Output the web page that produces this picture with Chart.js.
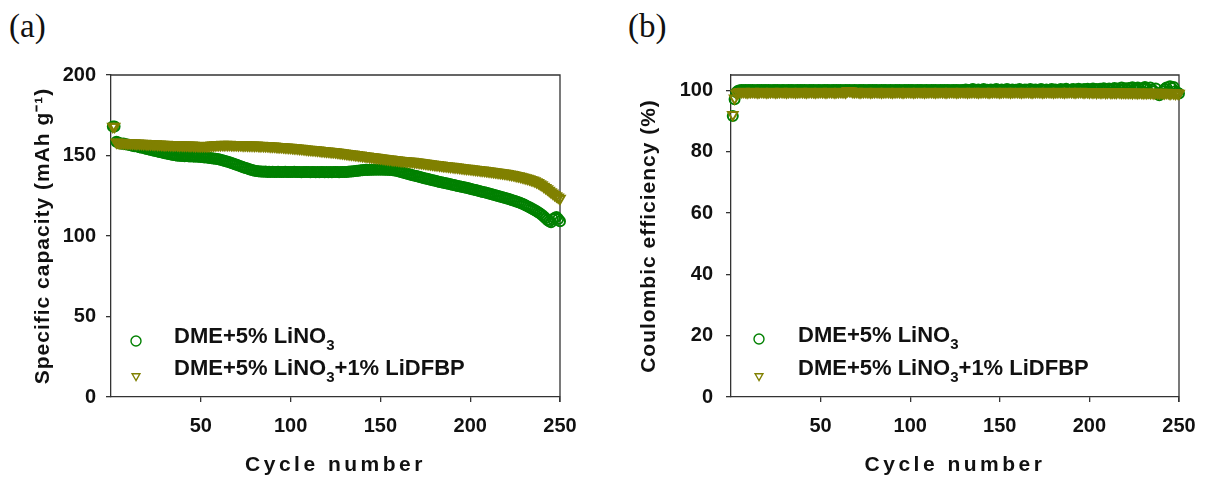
<!DOCTYPE html>
<html>
<head>
<meta charset="utf-8">
<script src="https://cdn.jsdelivr.net/npm/chart.js@4.4.1/dist/chart.umd.min.js"></script>
<style>
  body { margin: 0; background: #fff; width: 1209px; height: 484px; overflow: hidden; position: relative; }
  .box { position: absolute; top: 0; height: 484px; }
  .tag { position: absolute; top: 8px; font: 33px 'Liberation Serif', serif; color: #111; }
</style>
</head>
<body>
<div class="tag" style="left:9px">(a)</div>
<div class="tag" style="left:628px">(b)</div>
<div class="box" style="left:0;width:600px"><canvas id="capa"></canvas></div>
<div class="box" style="left:605px;width:604px"><canvas id="ce"></canvas></div>

<script>
var cycles = Array.from({length: 250}, function (_, i) { return i + 1; });

var seriesNames = ['DME+5% LiNO₃', 'DME+5% LiNO₃+1% LiDFBP'];
var xTicks = [50, 100, 150, 200, 250];
var capTicks = [0, 50, 100, 150, 200];
var ceTicks = [0, 20, 40, 60, 80, 100];

// (a) specific capacity, mAh/g
var capLiNO3 = [
  168, 168, 158.5, 158, 157.6, 157.3, 157.5, 157, 156.8, 156.6,
  156.3, 156.1, 155.8, 155.9, 155.4, 155.1, 154.8, 154.9, 154.4, 154.1,
  153.8, 153.6, 153.3, 153.0, 152.8, 152.5, 152.2, 152.0, 151.7, 151.4,
  151.2, 150.9, 150.7, 150.5, 150.3, 150.1, 149.9, 150.0, 149.7, 149.8,
  149.6, 149.7, 149.5, 149.4, 149.6, 149.3, 149.4, 149.2, 149.3, 149.1,
  149.0, 148.8, 148.9, 148.6, 148.5, 148.3, 148.2, 148.0, 147.9, 147.6,
  147.4, 147.1, 146.8, 146.5, 146.1, 145.8, 145.4, 145.0, 144.6, 144.2,
  143.8, 143.4, 143.0, 142.6, 142.2, 141.9, 141.5, 141.2, 140.9, 140.6,
  140.4, 140.2, 140.1, 140.0, 139.9, 140.0, 139.8, 139.9, 139.8, 139.9,
  139.8, 139.7, 139.9, 139.8, 139.7, 139.8, 139.9, 139.7, 139.8, 139.8,
  139.7, 139.9, 139.8, 139.7, 139.8, 139.6, 139.8, 139.7, 139.8, 139.7,
  139.6, 139.7, 139.8, 139.6, 139.7, 139.6, 139.7, 139.8, 139.6, 139.7,
  139.6, 139.7, 139.6, 139.7, 139.8, 139.7, 139.6, 139.7, 139.8, 139.7,
  139.8, 139.9, 140.0, 140.1, 140.2, 140.4, 140.5, 140.6, 140.8, 140.9,
  141.0, 141.1, 141.0, 141.2, 141.1, 141.2, 141.3, 141.2, 141.3, 141.2,
  141.3, 141.2, 141.1, 141.2, 141.0, 141.1, 140.9, 140.7, 140.5, 140.2,
  139.9, 139.6, 139.3, 139.0, 138.7, 138.4, 138.1, 137.8, 137.5, 137.2,
  136.9, 136.6, 136.3, 136.0, 135.7, 135.5, 135.2, 134.9, 134.7, 134.4,
  134.1, 133.9, 133.6, 133.4, 133.1, 132.9, 132.6, 132.4, 132.1, 131.9,
  131.6, 131.4, 131.1, 130.9, 130.6, 130.4, 130.1, 129.9, 129.6, 129.4,
  129.1, 128.8, 128.6, 128.3, 128.0, 127.7, 127.4, 127.1, 126.8, 126.5,
  126.2, 125.9, 125.6, 125.3, 125.0, 124.7, 124.4, 124.1, 123.8, 123.5,
  123.1, 122.8, 122.4, 122.0, 121.7, 121.3, 120.9, 120.5, 120.0, 119.5,
  119.0, 118.4, 117.8, 117.2, 116.6, 116.0, 115.3, 114.6, 113.9, 113.0,
  112.1, 111.0, 110.0, 109.2, 108.6, 110.4, 111.2, 111.8, 110.5, 109.2
];
var capLiDFBP = [
  168, 168, 158.3, 158.1, 157.9, 158.0, 157.8, 157.9, 157.7, 157.8,
  157.7, 157.6, 157.7, 157.5, 157.6, 157.4, 157.5, 157.3, 157.4, 157.2,
  157.3, 157.1, 157.2, 157.0, 157.1, 156.9, 157.0, 156.8, 156.9, 156.7,
  156.8, 156.7, 156.6, 156.7, 156.5, 156.6, 156.5, 156.4, 156.5, 156.4,
  156.3, 156.4, 156.3, 156.2, 156.3, 156.2, 156.1, 156.2, 156.1, 156.0,
  156.1, 156.0, 156.1, 156.0, 156.2, 156.3, 156.4, 156.5, 156.6, 156.7,
  156.7, 156.8, 156.7, 156.8, 156.7, 156.8, 156.7, 156.6, 156.7, 156.6,
  156.5, 156.6, 156.5, 156.4, 156.5, 156.4, 156.3, 156.4, 156.3, 156.2,
  156.3, 156.2, 156.1, 156.2, 156.1, 156.0, 156.0, 155.9, 155.8, 155.8,
  155.7, 155.6, 155.5, 155.5, 155.4, 155.3, 155.2, 155.1, 155.0, 154.9,
  154.8, 154.7, 154.6, 154.5, 154.4, 154.3, 154.2, 154.0, 153.9, 153.8,
  153.7, 153.6, 153.5, 153.4, 153.3, 153.2, 153.0, 152.9, 152.8, 152.7,
  152.6, 152.5, 152.4, 152.3, 152.2, 152.0, 151.9, 151.7, 151.6, 151.4,
  151.3, 151.1, 151.0, 150.8, 150.7, 150.5, 150.4, 150.2, 150.1, 149.9,
  149.8, 149.6, 149.5, 149.3, 149.2, 149.0, 148.9, 148.7, 148.6, 148.4,
  148.3, 148.1, 148.0, 147.8, 147.7, 147.6, 147.4, 147.3, 147.2, 147.0,
  146.9, 146.8, 146.7, 146.6, 146.5, 146.4, 146.3, 146.2, 146.0, 145.9,
  145.8, 145.6, 145.5, 145.3, 145.2, 145.0, 144.9, 144.7, 144.6, 144.4,
  144.3, 144.2, 144.0, 143.9, 143.7, 143.6, 143.5, 143.3, 143.2, 143.1,
  142.9, 142.8, 142.7, 142.5, 142.4, 142.3, 142.1, 142.0, 141.9, 141.7,
  141.6, 141.5, 141.3, 141.2, 141.1, 140.9, 140.8, 140.7, 140.5, 140.4,
  140.2, 140.1, 139.9, 139.8, 139.6, 139.5, 139.3, 139.1, 139.0, 138.8,
  138.6, 138.4, 138.2, 138.0, 137.8, 137.5, 137.3, 137.0, 136.7, 136.4,
  136.1, 135.7, 135.4, 135.0, 134.6, 134.1, 133.6, 133.0, 132.3, 131.6,
  130.8, 130.0, 129.2, 128.3, 127.4, 126.5, 125.6, 124.8, 124.0, 123.3
];

// (b) coulombic efficiency, %
var ceLiNO3 = [
  91.6, 97.1, 99.4, 99.9, 100.0, 100.1, 100.0, 100.1, 100.0, 100.1,
  100.0, 100.1, 100.0, 100.0, 100.1, 100.0, 100.1, 100.0, 100.1, 100.0,
  100.1, 100.0, 100.0, 100.1, 100.0, 100.1, 100.0, 100.0, 100.1, 100.0,
  100.0, 100.1, 100.0, 100.1, 100.0, 100.0, 100.1, 100.0, 100.1, 100.0,
  100.1, 100.0, 100.0, 100.1, 100.0, 100.1, 100.0, 100.0, 100.1, 100.0,
  100.0, 100.1, 100.0, 100.1, 100.0, 100.0, 100.1, 100.0, 100.1, 100.0,
  100.1, 100.0, 100.0, 100.1, 100.0, 100.1, 100.0, 100.0, 100.1, 100.0,
  100.0, 100.1, 100.0, 100.1, 100.0, 100.0, 100.1, 100.0, 100.1, 100.0,
  100.1, 100.0, 100.0, 100.1, 100.0, 100.1, 100.0, 100.0, 100.1, 100.0,
  100.0, 100.1, 100.0, 100.1, 100.0, 100.0, 100.1, 100.0, 100.1, 100.0,
  100.1, 100.0, 100.0, 100.1, 100.0, 100.1, 100.0, 100.0, 100.1, 100.0,
  100.0, 100.1, 100.0, 100.1, 100.0, 100.0, 100.1, 100.0, 100.1, 100.0,
  100.1, 100.0, 100.0, 100.1, 100.0, 100.1, 100.0, 100.0, 100.1, 100.0,
  100.3, 100.1, 100.0, 100.2, 100.4, 100.1, 100.0, 100.3, 100.1, 100.0,
  100.4, 100.1, 100.2, 100.0, 100.3, 100.1, 100.0, 100.4, 100.2, 100.1,
  100.3, 100.0, 100.1, 100.4, 100.2, 100.0, 100.3, 100.1, 100.2, 100.0,
  100.4, 100.1, 100.0, 100.3, 100.2, 100.1, 100.4, 100.0, 100.2, 100.3,
  100.1, 100.0, 100.4, 100.2, 100.1, 100.3, 100.0, 100.2, 100.4, 100.1,
  100.3, 100.1, 100.0, 100.4, 100.2, 100.1, 100.5, 100.2, 100.0, 100.3,
  100.4, 100.1, 100.3, 100.5, 100.2, 100.0, 100.4, 100.2, 100.5, 100.1,
  100.3, 100.6, 100.2, 100.4, 100.1, 100.5, 100.3, 100.7, 100.2, 100.4,
  100.6, 100.1, 100.5, 100.8, 100.3, 100.6, 100.2, 100.9, 100.4, 100.7,
  100.2, 100.8, 100.5, 101.0, 100.3, 100.7, 100.9, 100.4, 99.6, 100.8,
  101.1, 100.5, 99.3, 100.9, 100.3, 99.7, 100.6, 98.8, 98.4, 99.1,
  99.8, 100.4, 100.9, 99.6, 101.3, 100.8, 101.1, 99.7, 99.3, 99.0
];
var ceLiDFBP = [
  92.0, 97.4, 99.0, 99.4, 99.5, 99.5, 99.6, 99.5, 99.4, 99.5,
  99.5, 99.6, 99.5, 99.5, 99.4, 99.5, 99.6, 99.5, 99.5, 99.4,
  99.5, 99.5, 99.6, 99.5, 99.4, 99.5, 99.5, 99.6, 99.5, 99.5,
  99.4, 99.5, 99.6, 99.5, 99.5, 99.4, 99.5, 99.5, 99.6, 99.5,
  99.5, 99.4, 99.5, 99.6, 99.5, 99.5, 99.4, 99.5, 99.5, 99.6,
  99.5, 99.5, 99.4, 99.5, 99.6, 99.5, 99.5, 99.4, 99.5, 99.5,
  99.6, 99.5, 99.5, 99.4, 99.9, 99.9, 99.8, 99.5, 99.5, 99.6,
  99.5, 99.4, 99.5, 99.5, 99.6, 99.5, 99.5, 99.4, 99.5, 99.5,
  99.6, 99.5, 99.5, 99.4, 99.5, 99.5, 99.6, 99.5, 99.5, 99.4,
  99.5, 99.5, 99.6, 99.5, 99.5, 99.4, 99.5, 99.5, 99.6, 99.5,
  99.5, 99.4, 99.5, 99.5, 99.6, 99.5, 99.5, 99.4, 99.5, 99.5,
  99.6, 99.5, 99.5, 99.4, 99.5, 99.5, 99.6, 99.5, 99.5, 99.4,
  99.5, 99.5, 99.6, 99.5, 99.5, 99.4, 99.5, 99.5, 99.6, 99.5,
  99.5, 99.4, 99.5, 99.5, 99.6, 99.5, 99.5, 99.4, 99.5, 99.5,
  99.6, 99.5, 99.5, 99.4, 99.5, 99.5, 99.6, 99.5, 99.5, 99.4,
  99.5, 99.5, 99.6, 99.5, 99.5, 99.4, 99.5, 99.5, 99.6, 99.5,
  99.5, 99.4, 99.5, 99.5, 99.6, 99.5, 99.5, 99.4, 99.5, 99.5,
  99.6, 99.5, 99.5, 99.4, 99.5, 99.5, 99.6, 99.5, 99.5, 99.4,
  99.5, 99.5, 99.6, 99.5, 99.5, 99.4, 99.5, 99.5, 99.6, 99.5,
  99.5, 99.4, 99.5, 99.5, 99.6, 99.5, 99.4, 99.5, 99.5, 99.4,
  99.5, 99.4, 99.5, 99.3, 99.5, 99.4, 99.4, 99.5, 99.3, 99.4,
  99.5, 99.3, 99.4, 99.4, 99.3, 99.5, 99.4, 99.3, 99.4, 99.3,
  99.4, 99.3, 99.4, 99.2, 99.4, 99.3, 99.2, 99.4, 99.3, 99.2,
  99.3, 99.2, 99.4, 99.2, 99.3, 99.1, 99.3, 99.2, 99.1, 99.3,
  99.2, 99.1, 99.3, 99.2, 99.0, 99.2, 99.1, 99.0, 99.1, 99.0
];

var GREEN = '#008000';
var OLIVE = '#808000';
var FONT = "'Liberation Sans', Arial, sans-serif";

function pts(ys) {
  return ys.map(function (y, i) { return {x: cycles[i], y: y}; });
}

function makeDatasets(a, b) {
  return [
    {label: seriesNames[0], data: pts(a), pointStyle: 'circle', pointRadius: 5,
     borderColor: GREEN, backgroundColor: 'rgba(0,0,0,0)', pointBorderWidth: 2, order: 1, clip: false},
    {label: seriesNames[1], data: pts(b), pointStyle: 'triangle', pointRadius: 5.5, rotation: 180,
     borderColor: OLIVE, backgroundColor: 'rgba(0,0,0,0)', pointBorderWidth: 2, order: 0, clip: false}
  ];
}

function fixedTicks(list) {
  return function (s) { s.ticks = list.map(function (v) { return {value: v}; }); };
}

// top + right edges of the plot box
var frame = {
  id: 'frame',
  beforeDatasetsDraw: function (chart) {
    var a = chart.chartArea, ctx = chart.ctx;
    ctx.save();
    ctx.strokeStyle = '#333';
    ctx.lineWidth = 1.3;
    ctx.beginPath();
    ctx.moveTo(a.left, a.top);
    ctx.lineTo(a.right, a.top);
    ctx.lineTo(a.right, a.bottom + 5);
    ctx.stroke();
    ctx.restore();
  }
};

// legend drawn inside the plot, with a real subscript 3
var innerLegend = {
  id: 'innerLegend',
  afterDatasetsDraw: function (chart, args, o) {
    var ctx = chart.ctx;
    ctx.save();
    ctx.textBaseline = 'middle';
    ctx.textAlign = 'left';
    chart.data.datasets.forEach(function (ds, i) {
      ctx.strokeStyle = ds.borderColor;
      ctx.fillStyle = 'rgba(0,0,0,0)';
      ctx.lineWidth = 1.4;
      Chart.helpers.drawPoint(ctx, {pointStyle: ds.pointStyle, radius: i ? 4.5 : 5,
        rotation: ds.rotation || 0, borderWidth: 1.4}, o.markerX, o.markerY[i]);
      ctx.fillStyle = '#111';
      var x = o.textX, y = o.textY[i];
      var parts = ds.label.split('₃');
      parts.forEach(function (p, k) {
        ctx.font = 'bold 22px ' + FONT;
        ctx.fillText(p, x, y);
        x += ctx.measureText(p).width;
        if (k < parts.length - 1) {
          ctx.font = 'bold 15px ' + FONT;
          ctx.fillText('3', x, y + 9);
          x += ctx.measureText('3').width;
        }
      });
    });
    ctx.restore();
  }
};

// axis titles in the reference are letter-spaced
var spacedTitles = {
  id: 'spacedTitles',
  beforeDraw: function (chart, args, o) {
    Object.keys(chart.scales).forEach(function (k) {
      var s = chart.scales[k];
      if (s._spaced) return;
      var orig = s.drawTitle;
      var sp = k === 'x' ? o.x : o.y;
      s.drawTitle = function () {
        this.ctx.letterSpacing = sp;
        orig.apply(this, arguments);
        this.ctx.letterSpacing = '0px';
      };
      s._spaced = true;
    });
  }
};

function makeChart(id, a, b, yMax, yTicks, yTitle, yWidth, yPad, yTitlePad, padRight, legend) {
  return new Chart(document.getElementById(id), {
    type: 'scatter',
    data: {datasets: makeDatasets(a, b)},
    plugins: [frame, innerLegend, spacedTitles],
    options: {
      responsive: true,
      maintainAspectRatio: false,
      animation: false,
      events: [],
      layout: {padding: {left: 0, top: 75, right: padRight, bottom: 0}},
      plugins: {
        legend: {display: false},
        tooltip: {enabled: false},
        innerLegend: legend,
        spacedTitles: {x: '3.5px', y: '1px'}
      },
      scales: {
        x: {
          type: 'linear', min: 0, max: 250,
          afterBuildTicks: fixedTicks(xTicks),
          afterFit: function (s) { s.height = 87; },
          grid: {drawOnChartArea: false, tickLength: 5, color: '#333', lineWidth: 1.3},
          border: {color: '#333', width: 1.3},
          ticks: {color: '#111', padding: 12, maxRotation: 0, font: {family: FONT, size: 20, weight: 'bold'}},
          title: {display: true, text: 'Cycle number', color: '#111', padding: {top: 0, bottom: 6},
                  font: {family: FONT, size: 21, weight: 'bold'}}
        },
        y: {
          type: 'linear', min: 0, max: yMax,
          afterBuildTicks: fixedTicks(yTicks),
          afterFit: function (s) { s.width = yWidth; },
          grid: {drawOnChartArea: false, tickLength: 5, color: '#333', lineWidth: 1.3},
          border: {color: '#333', width: 1.3},
          ticks: {color: '#111', padding: yPad, font: {family: FONT, size: 20, weight: 'bold'}},
          title: {display: true, text: yTitle, color: '#111', padding: {top: yTitlePad, bottom: 0},
                  font: {family: FONT, size: 21, weight: 'bold'}}
        }
      }
    }
  });
}

makeChart('capa', capLiNO3, capLiDFBP, 200, capTicks, 'Specific capacity (mAh g⁻¹)', 111, 10, 31, 40,
  {markerX: 136, markerY: [341, 376], textX: 174, textY: [337, 369]});
makeChart('ce', ceLiNO3, ceLiDFBP, 105, ceTicks, 'Coulombic efficiency (%)', 126, 13, 32, 30,
  {markerX: 759 - 605, markerY: [339, 376], textX: 798 - 605, textY: [336, 369]});
</script>
</body>
</html>
